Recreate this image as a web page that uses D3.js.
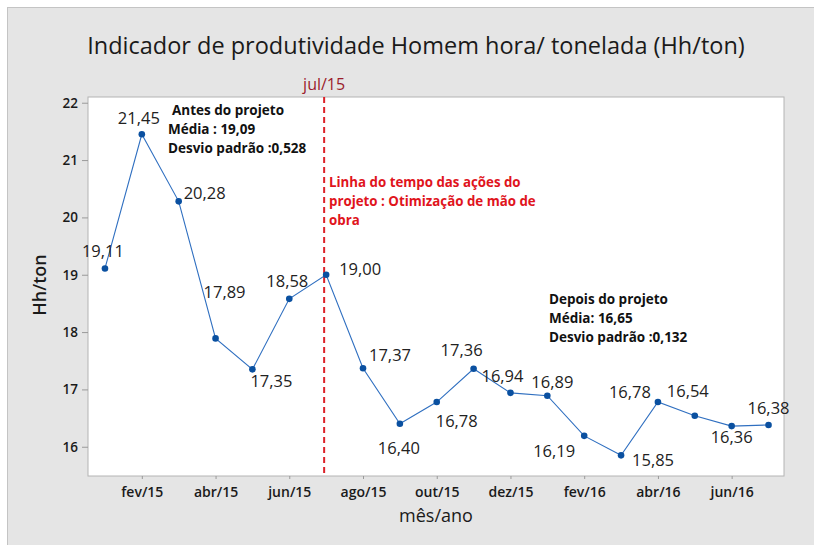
<!DOCTYPE html>
<html>
<head>
<meta charset="utf-8">
<script src="https://cdn.jsdelivr.net/npm/d3@7"></script>
<style>
  body { margin: 0; background: #fff; }
  svg text { font-family: "Open Sans", "Noto Sans", sans-serif; }
</style>
</head>
<body>
<div id="chart"></div>
<script>
// months jan/15 .. jul/16
var months = ["jan/15","fev/15","mar/15","abr/15","mai/15","jun/15","jul/15","ago/15","set/15","out/15","nov/15","dez/15",
              "jan/16","fev/16","mar/16","abr/16","mai/16","jun/16","jul/16"];
var values = [19.11, 21.45, 20.28, 17.89, 17.35, 18.58, 19.00, 17.37, 16.40, 16.78, 17.36, 16.94,
              16.89, 16.19, 15.85, 16.78, 16.54, 16.36, 16.38];
var xTickLabels = ["fev/15","abr/15","jun/15","ago/15","out/15","dez/15","fev/16","abr/16","jun/16"];
var yTicks = [16, 17, 18, 19, 20, 21, 22];
var markerMonth = "jul/15";
var noteBefore = ["Antes do projeto", "Média : 19,09", "Desvio padrão :0,528"];
var noteAfter = ["Depois do projeto", "Média: 16,65", "Desvio padrão :0,132"];
var noteLine = ["Linha do tempo das ações do", "projeto  : Otimização de mão de", "obra"];

// label offsets relative to each point (dx = centre of text, dy = baseline)
var labelOff = [[-2,-11],[-3,-10],[26,-2],[9,-40],[19,18],[-2,-12],[34,0],[27,-7],[-1,30],[20,25],[-12,-13],[-8,-11],
                [5,-8],[-30,21],[32,11],[-28,-4],[-7,-19],[0,17],[0,-11]];

var W = 814, H = 545;
var m = {left: 88, right: 30, top: 97, bottom: 69};

var svg = d3.select("#chart").append("svg")
  .attr("width", W)
  .attr("height", H);

svg.append("rect")
  .attr("x", 7.5).attr("y", 7.5)
  .attr("width", W).attr("height", H)
  .attr("fill", "#e5e5e5")
  .attr("stroke", "#c4c4c4");

var x = d3.scaleLinear()
  .domain([-0.46, months.length - 1 + 0.42])
  .range([m.left, W - m.right]);
var y = d3.scaleLinear()
  .domain([15.49, 22.1])
  .range([H - m.bottom, m.top]);

svg.append("rect")
  .attr("x", m.left).attr("y", m.top)
  .attr("width", W - m.right - m.left)
  .attr("height", H - m.bottom - m.top)
  .attr("fill", "#fff")
  .attr("stroke", "#b4b4b4");

// axes
var xAxis = svg.append("g")
  .attr("transform", "translate(0," + (H - m.bottom) + ")")
  .call(d3.axisBottom(x)
    .tickValues(xTickLabels.map(function(d){ return months.indexOf(d) }))
    .tickFormat(function(i){ return months[i] })
    .tickSizeOuter(0).tickSize(3).tickPadding(8));
var yAxis = svg.append("g")
  .attr("transform", "translate(" + m.left + ",0)")
  .call(d3.axisLeft(y).tickValues(yTicks).tickFormat(d3.format("d"))
    .tickSizeOuter(0).tickSize(6).tickPadding(4));

[xAxis, yAxis].forEach(function(a){
  a.select(".domain").remove();
  a.selectAll("line").attr("stroke", "#9a9a9a");
  a.selectAll("text").attr("fill", "#1a1a1a").attr("font-weight", 600);
});
xAxis.selectAll("text").attr("font-size", 14);
yAxis.selectAll("text").attr("font-size", 13.5);

// title and axis labels
svg.append("text")
  .attr("x", 416).attr("y", 54)
  .attr("text-anchor", "middle")
  .attr("font-size", 23.5)
  .attr("fill", "#1a1a1a")
  .text("Indicador de produtividade Homem hora/ tonelada (Hh/ton)");
svg.append("text")
  .attr("x", 436).attr("y", 522)
  .attr("text-anchor", "middle")
  .attr("font-size", 18)
  .attr("fill", "#1a1a1a")
  .text("mês/ano");
svg.append("text")
  .attr("transform", "translate(46,285) rotate(-90)")
  .attr("text-anchor", "middle")
  .attr("font-size", 18)
  .attr("font-weight", 600)
  .attr("fill", "#1a1a1a")
  .text("Hh/ton");

// reference line
var xm = x(months.indexOf(markerMonth)) - 2;
svg.append("line")
  .attr("x1", xm).attr("x2", xm)
  .attr("y1", m.top).attr("y2", H - m.bottom)
  .attr("stroke", "#dc2128")
  .attr("stroke-width", 2)
  .attr("stroke-dasharray", "6,4");
svg.append("text")
  .attr("x", xm).attr("y", 90)
  .attr("text-anchor", "middle")
  .attr("font-size", 16)
  .attr("fill", "#9b1c2c")
  .text(markerMonth);

// series
var line = d3.line()
  .x(function(d, i){ return x(i) })
  .y(function(d){ return y(d) });
svg.append("path")
  .datum(values)
  .attr("d", line)
  .attr("fill", "none")
  .attr("stroke", "#2f6fc0")
  .attr("stroke-width", 1.1);
svg.selectAll("circle.pt")
  .data(values)
  .enter()
    .append("circle")
      .attr("class", "pt")
      .attr("cx", function(d, i){ return x(i) })
      .attr("cy", function(d){ return y(d) })
      .attr("r", 3.3)
      .attr("fill", "#0a50a0");

svg.selectAll("text.lbl")
  .data(values)
  .enter()
    .append("text")
      .attr("class", "lbl")
      .attr("x", function(d, i){ return x(i) + labelOff[i][0] })
      .attr("y", function(d, i){ return y(d) + labelOff[i][1] })
      .attr("text-anchor", "middle")
      .attr("font-size", 16.5)
      .attr("fill", "#222")
      .text(function(d){ return d.toFixed(2).replace(".", ",") });

// annotations
function note(lines, x0, y0, color, step, firstDx, size){
  svg.append("g").selectAll("text")
    .data(lines)
    .enter()
      .append("text")
        .attr("x", function(d, i){ return x0 + (i == 0 ? firstDx : 0) })
        .attr("y", function(d, i){ return y0 + i * step })
        .attr("font-size", size)
        .attr("font-weight", 700)
        .attr("fill", color)
        .text(function(d){ return d });
}
note(noteBefore, 168, 115, "#111", 19, 4, 13.5);
note(noteLine, 329, 187, "#e0141c", 19, 0, 13.3);
note(noteAfter, 549, 304, "#111", 19, 0, 13.5);
</script>
</body>
</html>
